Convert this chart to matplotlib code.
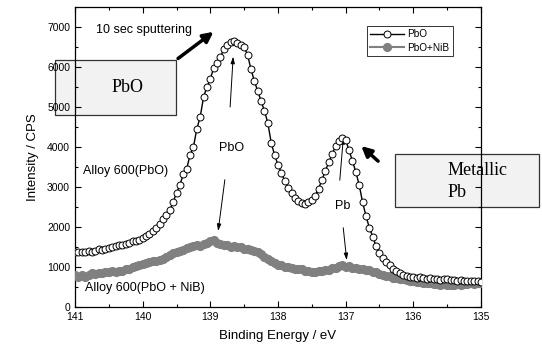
"""
XPS Pb 4f region: Alloy 600 with PbO vs PbO + NiB, after 10 s sputtering.
"""

import matplotlib
matplotlib.use("Agg")
import matplotlib.pyplot as plt
import numpy as np
from matplotlib.patches import Rectangle
from matplotlib.ticker import MultipleLocator

plt.rcParams["font.family"] = ["Liberation Sans", "DejaVu Sans"]

# ---------------------------------------------------------------------------
# Data, 0.05 eV scan step from 141 to 135 eV
# ---------------------------------------------------------------------------
binding_energy = np.linspace(141.0, 135.0, 121)

pbo_cps = [
    1380, 1375, 1380, 1385, 1390, 1385, 1400, 1440, 1430, 1460,
    1480, 1510, 1520, 1540, 1560, 1580, 1610, 1640, 1650, 1680,
    1720, 1780, 1830, 1900, 1980, 2080, 2200, 2300, 2420, 2620,
    2850, 3050, 3320, 3450, 3800, 4000, 4450, 4750, 5250, 5500,
    5700, 5980, 6100, 6250, 6450, 6550, 6630, 6640, 6600, 6560,
    6500, 6300, 5950, 5650, 5400, 5150, 4900, 4600, 4100, 3800,
    3550, 3350, 3150, 2980, 2850, 2720, 2640, 2610, 2580, 2620,
    2680, 2780, 2960, 3180, 3400, 3620, 3820, 4020, 4150, 4220,
    4180, 3920, 3650, 3380, 3050, 2620, 2280, 1980, 1760, 1520,
    1350, 1220, 1120, 1040, 960, 890, 840, 800, 780, 760,
    750, 730, 740, 720, 700, 720, 710, 690, 680, 700,
    690, 670, 680, 660, 670, 650, 660, 640, 650, 640,
    630,
]

pbo_nib_cps = [
    800, 750, 800, 760, 800, 840, 830, 860, 850, 880,
    870, 890, 880, 900, 910, 940, 960, 1010, 1030, 1060,
    1080, 1110, 1120, 1150, 1150, 1180, 1200, 1260, 1300, 1340,
    1370, 1410, 1420, 1470, 1490, 1530, 1550, 1520, 1580, 1610,
    1640, 1670, 1600, 1580, 1540, 1540, 1510, 1520, 1490, 1500,
    1460, 1460, 1420, 1410, 1370, 1320, 1250, 1210, 1150, 1110,
    1060, 1050, 1010, 1000, 970, 960, 940, 940, 890, 900,
    870, 880, 900, 900, 930, 930, 970, 980, 1030, 1050,
    1000, 1020, 980, 980, 950, 950, 920, 920, 880, 870,
    830, 810, 780, 770, 730, 720, 700, 690, 680, 660,
    640, 630, 620, 610, 600, 590, 580, 570, 560, 570,
    560, 550, 560, 570, 560, 580, 570, 590, 580, 600,
    590,
]

GRAY = "#808080"

# ---------------------------------------------------------------------------
# Plot
# ---------------------------------------------------------------------------
fig = plt.figure(figsize=(5.42, 3.53), dpi=100)
ax = fig.add_axes([0.1384, 0.1303, 0.749, 0.850])

ax.plot(binding_energy, pbo_nib_cps, "-o", color=GRAY, markersize=5.6,
        markerfacecolor=GRAY, markeredgecolor=GRAY, linewidth=1.5,
        label="PbO+NiB", zorder=3)
ax.plot(binding_energy, pbo_cps, "-o", color="black", markersize=5.0,
        markerfacecolor="white", markeredgecolor="black", markeredgewidth=0.7,
        linewidth=1.0, label="PbO", zorder=4)

ax.set_xlim(141, 135)
ax.set_ylim(0, 7500)
ax.xaxis.set_major_locator(MultipleLocator(1))
ax.xaxis.set_minor_locator(MultipleLocator(0.5))
ax.yaxis.set_major_locator(MultipleLocator(1000))
ax.yaxis.set_minor_locator(MultipleLocator(500))
ax.set_yticks([0, 1000, 2000, 3000, 4000, 5000, 6000, 7000])
ax.tick_params(which="both", direction="in", top=True, right=True,
               labelsize=7.5, width=0.8)
ax.tick_params(which="major", length=4)
ax.tick_params(which="minor", length=2.5)
for s in ax.spines.values():
    s.set_linewidth(0.9)

ax.set_xlabel("Binding Energy / eV", fontsize=9.5, labelpad=6)
ax.set_ylabel("Intensity / CPS", fontsize=9.5, labelpad=6)

handles, labels = ax.get_legend_handles_labels()
leg = ax.legend(handles[::-1], labels[::-1], loc="upper right",
                bbox_to_anchor=(0.931, 0.937), borderaxespad=0,
                fontsize=7.2, frameon=True, fancybox=False,
                edgecolor="black", handlelength=3.4, handletextpad=0.3,
                borderpad=0.35, labelspacing=0.35)
leg.get_frame().set_linewidth(0.7)

# text labels and arrows (data coordinates)
ax.text(140.69, 6920, "10 sec sputtering", fontsize=9, va="center")
ax.annotate("", xy=(138.92, 6920), xytext=(139.51, 6170),
            arrowprops=dict(arrowstyle="-|>,head_length=0.6,head_width=0.3",
                            color="black", lw=2.5))
ax.annotate("", xy=(136.8, 4070), xytext=(136.49, 3600),
            arrowprops=dict(arrowstyle="-|>,head_length=0.6,head_width=0.3",
                            color="black", lw=2.5))

ax.text(138.68, 3970, "PbO", fontsize=9, ha="center", va="center")
ax.annotate("", xy=(138.66, 6330), xytext=(138.71, 4930),
            arrowprops=dict(arrowstyle="-|>,head_length=0.4,head_width=0.12",
                            color="black", lw=0.7))
ax.annotate("", xy=(138.89, 1830), xytext=(138.78, 3250),
            arrowprops=dict(arrowstyle="-|>,head_length=0.4,head_width=0.12",
                            color="black", lw=0.7))

ax.text(137.04, 2530, "Pb", fontsize=9, ha="center", va="center")
ax.annotate("", xy=(137.03, 4320), xytext=(137.09, 3100),
            arrowprops=dict(arrowstyle="-|>,head_length=0.4,head_width=0.12",
                            color="black", lw=0.7))
ax.annotate("", xy=(136.98, 1100), xytext=(137.04, 2050),
            arrowprops=dict(arrowstyle="-|>,head_length=0.4,head_width=0.12",
                            color="black", lw=0.7))

ax.text(140.88, 3390, "Alloy 600(PbO)", fontsize=9, va="center")
ax.text(140.85, 470, "Alloy 600(PbO + NiB)", fontsize=9, va="center")

# boxed labels, drawn below the frame like in the original
box_kw = dict(facecolor="#f2f2f2", edgecolor="#333333", linewidth=0.9,
              clip_on=False, zorder=1)
ax.add_patch(Rectangle((141.3, 4800), -1.79, 1375, **box_kw))
ax.text(140.23, 5475, "PbO", family=["Liberation Serif"], fontsize=13,
        ha="center", va="center", zorder=1, clip_on=False)

ax.add_patch(Rectangle((136.27, 2500), -2.13, 1325, **box_kw))
ax.text(135.49, 3420, "Metallic", family=["Liberation Serif"], fontsize=13,
        ha="left", va="center", zorder=1, clip_on=False)
ax.text(135.49, 2850, "Pb", family=["Liberation Serif"], fontsize=13,
        ha="left", va="center", zorder=1, clip_on=False)

fig.savefig("out.png", dpi=100)
